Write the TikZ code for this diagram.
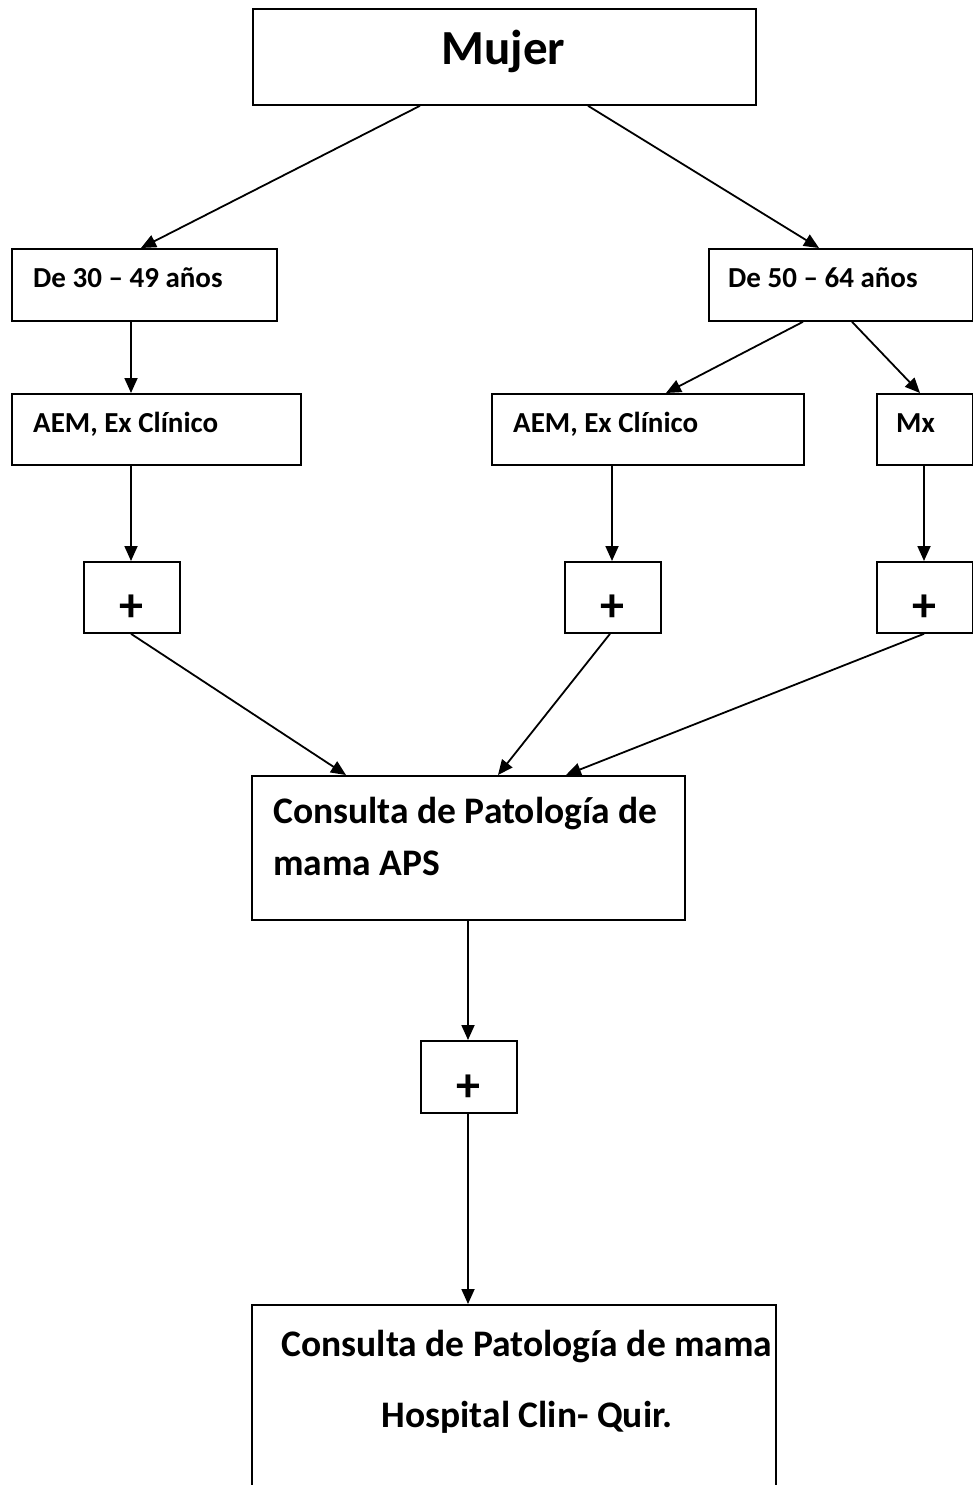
\documentclass[tikz,border=0pt]{standalone}
\usepackage{fontspec}
\setmainfont{Carlito}
\usetikzlibrary{arrows.meta}
\begin{document}
\begin{tikzpicture}[x=1pt,y=-1pt,
  box/.style={draw=black,line width=1.8pt,rectangle,anchor=north west,inner sep=0pt},
  txt/.style={inner sep=0pt,font=\bfseries},
  small/.style={txt,anchor=base west,font=\bfseries\fontsize{29}{34}\selectfont},
  big/.style={txt,font=\bfseries\fontsize{37.5}{42}\selectfont},
  plus/.style={txt,anchor=center,font=\bfseries\fontsize{48}{52}\selectfont},
  arr/.style={line width=1.8pt,-{Triangle[length=15pt,width=13pt]}}]
\useasboundingbox (0,0) rectangle (973,1485);
% boxes
\node[box,minimum width=503pt,minimum height=96pt] (mujer) at (252,8) {};
\node[box,minimum width=265pt,minimum height=72pt] (d30) at (11,248) {};
\node[box,minimum width=264pt,minimum height=72pt] (d50) at (708,248) {};
\node[box,minimum width=289pt,minimum height=71pt] (aem1) at (11,393) {};
\node[box,minimum width=312pt,minimum height=71pt] (aem2) at (491,393) {};
\node[box,minimum width=96pt,minimum height=71pt] (mx) at (876,393) {};
\node[box,minimum width=96pt,minimum height=71pt] (p1) at (83,561) {};
\node[box,minimum width=96pt,minimum height=71pt] (p2) at (564,561) {};
\node[box,minimum width=96pt,minimum height=71pt] (p3) at (876,561) {};
\node[box,minimum width=433pt,minimum height=144pt] (aps) at (251,775) {};
\node[box,minimum width=96pt,minimum height=72pt] (pc) at (420,1040) {};
\node[box,minimum width=524pt,minimum height=260pt] (hosp) at (251,1304) {};
% texts
\node[txt,anchor=base,font=\bfseries\fontsize{49}{54}\selectfont] (tmujer) at (503.5,65) {Mujer};
\node[small] (td30) at (33,287) {De 30 – 49 años};
\node[small] (td50) at (728,287) {De 50 – 64 años};
\node[small] (taem1) at (33,432) {AEM, Ex Clínico};
\node[small] (taem2) at (513,432) {AEM, Ex Clínico};
\node[small] (tmx) at (896,432) {Mx};
\node[plus] (tp1) at (131,608) {+};
\node[plus] (tp2) at (612,608) {+};
\node[plus] (tp3) at (924,608) {+};
\node[plus] (tpc) at (468,1088) {+};
\node[big,anchor=base west] (taps1) at (273,823) {Consulta de Patología de};
\node[big,anchor=base west] (taps2) at (273,875) {mama APS};
\node[big,anchor=base] (th1) at (527,1356) {Consulta de Patología de mama};
\node[big,anchor=base] (th2) at (527,1427) {Hospital Clin- Quir.};
% connectors
\draw[arr] ([xshift=168pt]mujer.south west) -- ([xshift=130pt]d30.north west);
\draw[arr] ([xshift=336pt]mujer.south west) -- ([xshift=111pt]d50.north west);
\draw[arr] ([xshift=120pt]d30.south west) -- ([xshift=120pt]aem1.north west);
\draw[arr] ([xshift=95pt]d50.south west) -- ([xshift=175pt]aem2.north west);
\draw[arr] ([xshift=144pt]d50.south west) -- ([xshift=44pt]mx.north west);
\draw[arr] ([xshift=120pt]aem1.south west) -- ([xshift=48pt]p1.north west);
\draw[arr] ([xshift=121pt]aem2.south west) -- ([xshift=48pt]p2.north west);
\draw[arr] ([xshift=48pt]mx.south west) -- ([xshift=48pt]p3.north west);
\draw[arr] ([xshift=48pt]p1.south west) -- ([xshift=95pt]aps.north west);
\draw[arr] ([xshift=46pt]p2.south west) -- ([xshift=247pt]aps.north west);
\draw[arr] ([xshift=48pt]p3.south west) -- ([xshift=315pt]aps.north west);
\draw[arr] ([xshift=217pt]aps.south west) -- ([xshift=48pt]pc.north west);
\draw[arr] ([xshift=48pt]pc.south west) -- ([xshift=217pt]hosp.north west);
\end{tikzpicture}
\end{document}
